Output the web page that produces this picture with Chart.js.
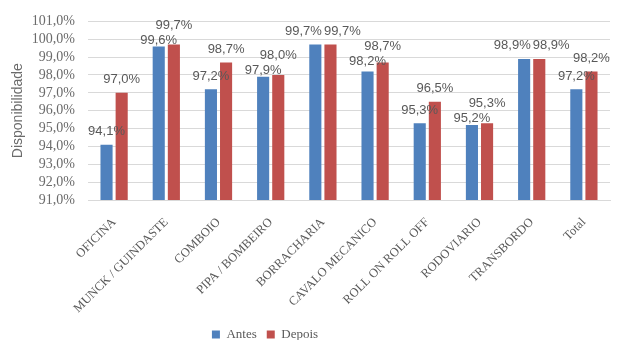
<!DOCTYPE html>
<html>
<head>
<meta charset="utf-8">
<script src="https://cdn.jsdelivr.net/npm/chart.js@4"></script>
<style>
  html, body { margin: 0; padding: 0; background: #fff; }
  #wrap { width: 621px; height: 340px; }
</style>
</head>
<body>
<div id="wrap"><canvas id="chartCanvas" width="621" height="340"></canvas></div>
<script>
const categories = ['OFICINA', 'MUNCK / GUINDASTE', 'COMBOIO', 'PIPA / BOMBEIRO', 'BORRACHARIA',
  'CAVALO MECANICO', 'ROLL ON ROLL OFF', 'RODOVIARIO', 'TRANSBORDO', 'Total'];
const antes = [94.1, 99.6, 97.2, 97.9, 99.7, 98.2, 95.3, 95.2, 98.9, 97.2];
const depois = [97.0, 99.7, 98.7, 98.0, 99.7, 98.7, 96.5, 95.3, 98.9, 98.2];
const yMin = 91;
const yMax = 101;
const yStep = 1;

const serif = '"Liberation Serif", "DejaVu Serif", serif';
const sans = '"Liberation Sans", Arial, sans-serif';

function pct(v) {
  return v.toFixed(1).replace('.', ',') + '%';
}

// value labels above bars, pushed apart when a pair collides
const barLabels = {
  id: 'barLabels',
  afterDatasetsDraw(chart) {
    const ctx = chart.ctx;
    const m0 = chart.getDatasetMeta(0).data;
    const m1 = chart.getDatasetMeta(1).data;
    ctx.save();
    ctx.font = '13px ' + sans;
    ctx.fillStyle = '#595959';
    ctx.textAlign = 'center';
    ctx.textBaseline = 'middle';
    for (let i = 0; i < categories.length; i++) {
      const a = { x: m0[i].x, y: m0[i].y - 13, t: pct(antes[i]) };
      const b = { x: m1[i].x, y: m1[i].y - 13, t: pct(depois[i]) };
      const wa = ctx.measureText(a.t).width;
      const wb = ctx.measureText(b.t).width;
      const dy = a.y - b.y;
      const needX = (wa + wb) / 2 + 2 - (b.x - a.x);
      if (Math.abs(dy) < 14 && needX > 0) {
        if (Math.abs(dy) < 0.5) {
          a.x -= needX / 2;
          b.x += needX / 2;
        } else {
          const need = 15 - Math.abs(dy);
          if (dy > 0) { a.y += need / 2; b.y -= need / 2; }
          else { a.y -= need / 2; b.y += need / 2; }
        }
      }
      ctx.fillText(a.t, a.x, a.y);
      ctx.fillText(b.t, b.x, b.y);
    }
    ctx.restore();
  }
};

// legend sits lower and a bit left of center, like the original
const legendPlace = {
  id: 'legendPlace',
  beforeInit(chart) {
    const fit = chart.legend.fit;
    chart.legend.fit = function () {
      fit.call(this);
      this.height -= 11;
    };
  },
  afterLayout(chart) {
    chart.legend.left -= 40;
    chart.legend.right -= 40;
  }
};

new Chart(document.getElementById('chartCanvas'), {
  type: 'bar',
  data: {
    labels: categories,
    datasets: [
      { label: 'Antes', data: antes, backgroundColor: '#4f81bd' },
      { label: 'Depois', data: depois, backgroundColor: '#c0504d' }
    ]
  },
  options: {
    responsive: false,
    animation: false,
    layout: { padding: { top: 12, right: 11, bottom: 0, left: 0 } },
    datasets: { bar: { categoryPercentage: 0.58, barPercentage: 0.8 } },
    plugins: {
      legend: {
        position: 'bottom',
        labels: {
          boxWidth: 8, boxHeight: 8, padding: 10,
          font: { family: serif, size: 13 }, color: '#595959'
        }
      },
      tooltip: { enabled: false }
    },
    scales: {
      x: {
        grid: { display: false },
        border: { color: '#d9d9d9' },
        ticks: {
          font: { family: serif, size: 12.5 }, color: '#595959',
          maxRotation: 45, minRotation: 45, autoSkip: false, padding: 7
        },
        afterFit(scale) {
          scale.height = (340 - scale.chart.legend.height) - 200;
        }
      },
      y: {
        min: yMin, max: yMax,
        grid: { color: '#d9d9d9', drawTicks: false },
        border: { display: false },
        ticks: {
          stepSize: yStep, padding: 13, autoSkip: false,
          font: { family: serif, size: 14 }, color: '#6b6b6b',
          callback: v => pct(v)
        },
        title: {
          display: true, text: 'Disponibilidade',
          font: { family: sans, size: 14 }, color: '#6b6b6b',
          padding: { top: 10, bottom: 0 }
        },
        afterFit(scale) { scale.width = 88; }
      }
    }
  },
  plugins: [barLabels, legendPlace]
});
</script>
</body>
</html>
